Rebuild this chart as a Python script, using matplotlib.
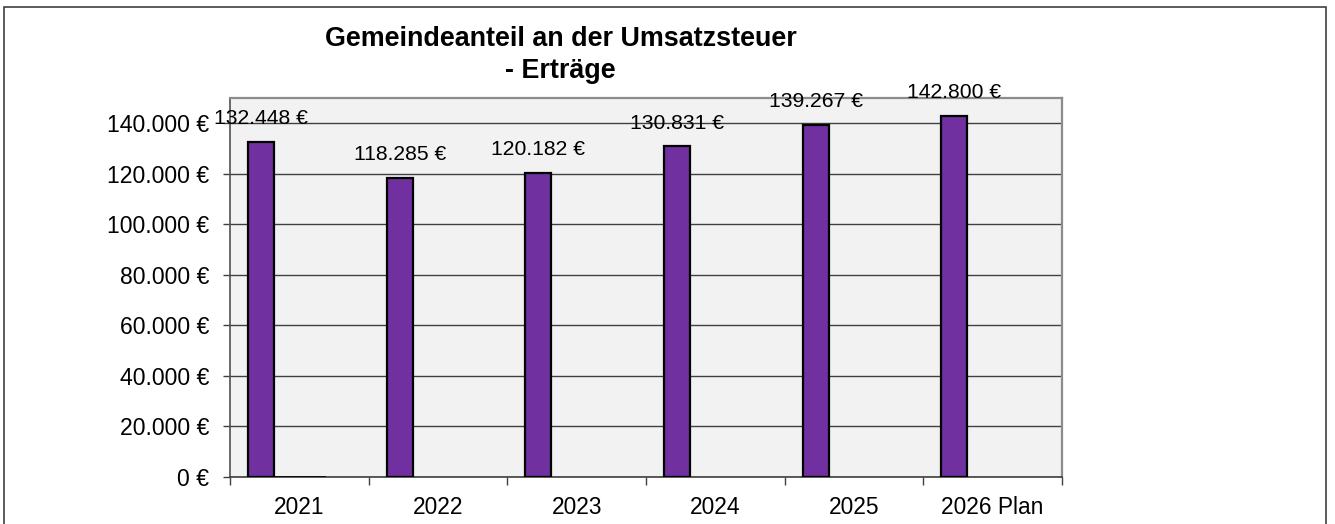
import numpy as np
import matplotlib.pyplot as plt
from matplotlib.patches import Rectangle

plt.rcParams['font.family'] = ['Liberation Sans', 'DejaVu Sans']

# data
years = ['2021', '2022', '2023', '2024', '2025', '2026 Plan']
ertraege = [132448, 118285, 120182, 130831, 139267, 142800]
# two empty series that only show up as a flat line in 2021
leer_a = [0, np.nan, np.nan, np.nan, np.nan, np.nan]
leer_b = [0, np.nan, np.nan, np.nan, np.nan, np.nan]
y_ticks = [0, 20000, 40000, 60000, 80000, 100000, 120000, 140000]


def euro(v):
    return f"{v:,.0f}".replace(",", ".") + " €"


fig = plt.figure(figsize=(13.35, 5.24), dpi=100)
ax = fig.add_axes([0.1723, 0.0897, 0.6232, 0.7233])
ax.set_facecolor('#F2F2F2')

x = np.arange(len(years))
w = 0.1875
ax.bar(x - 0.5 + 0.13 + w / 2, ertraege, width=w, color='#7030A0',
       edgecolor='black', linewidth=1.6, zorder=3)
ax.bar(x - 0.5 + 0.13 + 1.5 * w, leer_a, width=w, color='#7030A0',
       edgecolor='black', linewidth=1.2, zorder=3)
ax.bar(x - 0.5 + 0.13 + 2.5 * w, leer_b, width=w, color='#7030A0',
       edgecolor='black', linewidth=1.2, zorder=3)

for xi, v in zip(x, ertraege):
    ax.annotate(euro(v), (xi - 0.5 + 0.13 + w / 2, v), xytext=(0, 10),
                textcoords='offset points', ha='center', va='bottom',
                fontsize=15.2)

ax.set_xlim(-0.5, len(years) - 0.5)
ax.set_ylim(0, 150000)
ax.set_yticks(y_ticks)
ax.set_yticklabels([euro(v) for v in y_ticks], fontsize=16.6)
ax.yaxis.grid(True, color='#404040', linewidth=1.0, zorder=1)
ax.tick_params(axis='y', length=5, width=1, color='#404040', pad=10)

ax.set_xticks(x)
ax.set_xticklabels(years, fontsize=16.4)
ax.set_xticks(np.arange(len(years) + 1) - 0.5, minor=True)
ax.tick_params(axis='x', which='major', length=0, pad=13.5)
ax.tick_params(axis='x', which='minor', length=6, width=1, color='#404040')

for side in ['top', 'right']:
    ax.spines[side].set_color('#8C8C8C')
    ax.spines[side].set_linewidth(1.6)
ax.spines['left'].set_color('#505050')
ax.spines['left'].set_linewidth(1.2)
ax.spines['bottom'].set_color('#404040')
ax.spines['bottom'].set_linewidth(1.2)

fig.text(0.42, 0.895, 'Gemeindeanteil an der Umsatzsteuer\n- Erträge',
         ha='center', va='center', fontsize=19.4, fontweight='bold',
         linespacing=1.3)

fig.patches.append(Rectangle((0.003, -0.05), 0.99, 1.037, transform=fig.transFigure,
                             fill=False, edgecolor='#404040', linewidth=1.2))

fig.savefig('out.png', dpi=100)
